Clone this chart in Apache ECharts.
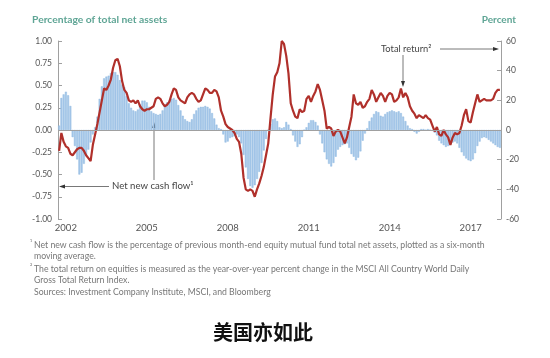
<!DOCTYPE html>
<html><head><meta charset="utf-8">
<script src="https://cdn.jsdelivr.net/npm/echarts@6/dist/echarts.min.js"></script>
<style>html,body{margin:0;padding:0;background:#fff;}#c{width:550px;height:358px;}</style>
</head><body><div id="c"></div>
<script>
// Monthly categories: Oct 2001 .. Feb 2018
var startYear = 2001, startMonth = 10, monthCount = 197;
var tickYears = ['2002','2005','2008','2011','2014','2017'];
var leftTicks = [-1, -0.75, -0.5, -0.25, 0, 0.25, 0.5, 0.75, 1];
var rightTicks = [-60, -40, -20, 0, 20, 40, 60];

// Net new cash flow (percentage of total net assets), six-month moving average
var netCashFlow = [
 0.05,0.36,0.40,0.43,0.39,0.27,-0.08,-0.18,-0.33,-0.50,-0.48,-0.38,-0.28,-0.22,-0.14,-0.05,
 0.03,0.15,0.35,0.49,0.58,0.60,0.61,0.64,0.65,0.65,0.62,0.56,0.51,0.48,0.38,0.30,
 0.25,0.22,0.21,0.23,0.29,0.33,0.33,0.31,0.26,0.21,0.19,0.18,0.17,0.18,0.22,0.28,
 0.31,0.33,0.35,0.36,0.34,0.28,0.22,0.16,0.12,0.10,0.09,0.12,0.18,0.22,0.25,0.26,
 0.26,0.27,0.26,0.24,0.19,0.13,0.06,0.02,0.01,-0.05,-0.14,-0.13,-0.09,-0.08,-0.07,-0.05,
 -0.08,-0.15,-0.28,-0.42,-0.55,-0.63,-0.65,-0.62,-0.55,-0.47,-0.37,-0.23,-0.10,0.00,0.07,0.12,
 0.13,0.10,0.03,0.02,0.03,0.09,0.06,0.01,-0.06,-0.13,-0.19,-0.16,-0.08,0.00,0.03,0.08,
 0.11,0.11,0.09,0.05,-0.05,-0.15,-0.25,-0.33,-0.38,-0.41,-0.37,-0.30,-0.22,-0.19,-0.17,-0.16,
 -0.15,-0.20,-0.27,-0.30,-0.34,-0.31,-0.24,-0.12,-0.04,0.02,0.10,0.14,0.18,0.21,0.20,0.16,
 0.15,0.18,0.20,0.21,0.22,0.21,0.20,0.21,0.19,0.15,0.10,0.05,0.02,0.01,-0.02,-0.04,
 -0.02,0.01,0.01,0.00,0.01,0.00,-0.01,-0.03,-0.06,-0.12,-0.15,-0.17,-0.19,-0.18,-0.16,-0.14,
 -0.13,-0.15,-0.20,-0.25,-0.29,-0.32,-0.34,-0.35,-0.33,-0.26,-0.18,-0.13,-0.09,-0.08,-0.09,-0.11,
 -0.13,-0.15,-0.17,-0.19,-0.20
];

// Total return (percent, year-over-year)
var totalReturn = [
 -14,-2,-8,-11,-12,-16,-17,-15,-13,-12,-12,-14,-17,-19,-21,-10,
 -3,4,12,20,28,27,30,34,42,47,48,43,33,27,25,20,
 19,20,18,20,16,14,13,14,14,15,16,21,22,21,18,16,
 17,19,24,28,27,22,20,19,18,22,24,25,24,21,19,20,
 24,28,27,25,25,27,26,22,13,9,4,2,1,0,-2,-6,
 -8,-16,-32,-40,-41,-40,-41,-45,-40,-36,-31,-25,-17,-9,8,24,
 36,39,45,60,58,50,38,18,13,9,8,14,12,13,21,23,
 19,23,26,31,27,20,13,1,2,1,-4,-1,0,-1,-5,-9,
 -5,2,9,24,18,17,19,15,16,19,21,27,24,19,22,25,
 23,19,23,25,24,19,20,22,28,22,25,22,16,13,11,8,
 10,9,8,10,8,7,3,-1,2,-3,-4,0,-3,-5,-10,-5,
 -2,-3,-2,3,10,14,6,5,12,18,24,19,20,21,20,20,
 20,21,25,27,27
];

var categories = [];
for (var k = 0; k < monthCount; k++) {
  var m = startMonth - 1 + k;
  var y = startYear + Math.floor(m / 12);
  var mm = (m % 12) + 1;
  categories.push(y + '-' + (mm < 10 ? '0' + mm : mm));
}

var FONT = 'Lato, "Open Sans", sans-serif';
var chart = echarts.init(document.getElementById('c'), null, {renderer: 'canvas'});

function isTick(val) {
  return val.slice(5) === '01' && tickYears.indexOf(val.slice(0, 4)) >= 0;
}

var option = {
  backgroundColor: '#ffffff',
  animation: false,
  grid: {left: 58, right: 49, top: 41, bottom: 139, containLabel: false},
  xAxis: {
    type: 'category',
    data: categories,
    boundaryGap: true,
    axisLine: {show: false},
    axisTick: {show: false},
    splitLine: {show: false},
    axisLabel: {
      interval: function (idx, val) { return isTick(val); },
      formatter: function (val) { return val.slice(0, 4); },
      color: '#555', fontSize: 9.5, fontFamily: FONT, margin: 4
    }
  },
  yAxis: [
    {
      type: 'value', min: -1, max: 1, interval: 0.25, position: 'left',
      axisLine: {show: true, lineStyle: {color: '#a0a0a0', width: 1}},
      axisTick: {show: true, inside: true, length: 4, lineStyle: {color: '#a0a0a0'}},
      splitLine: {show: false},
      axisLabel: {
        formatter: function (v) { return v.toFixed(2); },
        color: '#555', fontSize: 8.5, fontFamily: FONT, margin: 6
      }
    },
    {
      type: 'value', min: -60, max: 60, interval: 20, position: 'right',
      axisLine: {show: true, lineStyle: {color: '#a0a0a0', width: 1}},
      axisTick: {show: true, inside: true, length: 4, lineStyle: {color: '#a0a0a0'}},
      splitLine: {show: false},
      axisLabel: {color: '#555', fontSize: 8.5, fontFamily: FONT, margin: 5}
    }
  ],
  series: [
    {
      name: 'Net new cash flow', type: 'bar', yAxisIndex: 0,
      data: netCashFlow, barCategoryGap: '15%',
      itemStyle: {color: '#a8c9ea', borderColor: '#86b3df', borderWidth: 0.4},
      markLine: {
        silent: true, symbol: 'none', label: {show: false},
        lineStyle: {color: '#a0a0a0', width: 1, type: 'solid'},
        data: [{yAxis: 0}]
      },
      z: 2
    },
    {
      name: 'Total return', type: 'line', yAxisIndex: 1,
      data: totalReturn, showSymbol: false, smooth: false,
      lineStyle: {color: '#b0302b', width: 2.2},
      z: 3
    }
  ],
  graphic: []
};
chart.setOption(option);

var g = [];
var txtCol = '#444';
g.push({type: 'text', left: 32, top: 15, style: {text: 'Percentage of total net assets', fill: '#5fa595', font: 'bold 10.3px ' + FONT}});
g.push({type: 'text', right: 34, top: 15, style: {text: 'Percent', fill: '#5fa595', font: 'bold 10px ' + FONT}});

// Net new cash flow annotation
g.push({type: 'text', left: 112, top: 181, style: {text: 'Net new cash flow\u00b9', fill: txtCol, font: '9.6px ' + FONT}});
g.push({type: 'line', shape: {x1: 109, y1: 186.5, x2: 63, y2: 186.5}, style: {stroke: '#555', lineWidth: 0.8}});
g.push({type: 'polygon', shape: {points: [[59, 186.5], [65, 184.5], [65, 188.5]]}, style: {fill: '#333'}});
g.push({type: 'line', shape: {x1: 154, y1: 180, x2: 154, y2: 127}, style: {stroke: '#555', lineWidth: 0.8}});
g.push({type: 'polygon', shape: {points: [[154, 122], [152, 128], [156, 128]]}, style: {fill: '#333'}});

// Total return annotation
g.push({type: 'text', left: 381, top: 44, style: {text: 'Total return\u00b2', fill: txtCol, font: '9.3px ' + FONT}});
g.push({type: 'line', shape: {x1: 440, y1: 49, x2: 493, y2: 49}, style: {stroke: '#555', lineWidth: 0.8}});
g.push({type: 'polygon', shape: {points: [[499, 49], [493, 47], [493, 51]]}, style: {fill: '#333'}});
g.push({type: 'line', shape: {x1: 403, y1: 55, x2: 403, y2: 82}, style: {stroke: '#555', lineWidth: 0.8}});
g.push({type: 'polygon', shape: {points: [[403, 87], [401, 81], [405, 81]]}, style: {fill: '#333'}});

// Footnotes
var fn = '8.7px ' + FONT;
var fcol = '#777';
g.push({type: 'text', left: 30, top: 239, style: {text: '\u00b9', fill: fcol, font: '6.5px ' + FONT}});
g.push({type: 'text', left: 34, top: 241, style: {text: 'Net new cash flow is the percentage of previous month-end equity mutual fund total net assets, plotted as a six-month', fill: fcol, font: fn}});
g.push({type: 'text', left: 34, top: 252, style: {text: 'moving average.', fill: fcol, font: fn}});
g.push({type: 'text', left: 30, top: 263, style: {text: '\u00b2', fill: fcol, font: '6.5px ' + FONT}});
g.push({type: 'text', left: 34, top: 265, style: {text: 'The total return on equities is measured as the year-over-year percent change in the MSCI All Country World Daily', fill: fcol, font: fn}});
g.push({type: 'text', left: 34, top: 276, style: {text: 'Gross Total Return Index.', fill: fcol, font: fn}});
g.push({type: 'text', left: 34, top: 288, style: {text: 'Sources: Investment Company Institute, MSCI, and Bloomberg', fill: fcol, font: fn}});

// Caption
g.push({type: 'text', left: 213, top: 322, style: {text: '美国亦如此', fill: '#111', font: 'bold 20px "Noto Sans CJK SC", sans-serif'}});

chart.setOption({graphic: g});
</script>
</body></html>
